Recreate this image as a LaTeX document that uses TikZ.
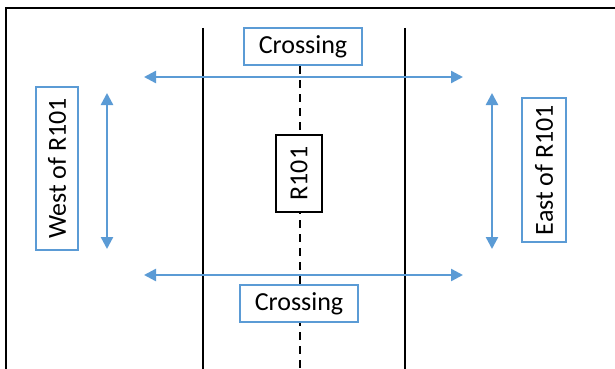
\documentclass[tikz,border=0pt]{standalone}
\usepackage{fontspec}
\setmainfont{Carlito}
\usetikzlibrary{arrows.meta}
\definecolor{skyblue}{RGB}{91,155,213}
\begin{document}
\begin{tikzpicture}[x=1pt,y=-1pt,
  roadline/.style={black,line width=1.8pt},
  bluebox/.style={draw=skyblue,line width=1.2pt,fill=white,inner sep=0pt,font=\fontsize{26}{30}\selectfont},
  blackbox/.style={draw=black,line width=1.2pt,fill=white,inner sep=0pt,font=\fontsize{26}{30}\selectfont},
  twoway/.style={skyblue,line width=2.4pt,{Triangle[length=12pt,width=12pt]}-{Triangle[length=12pt,width=12pt]}}]
\useasboundingbox (0,0) rectangle (615,369);
\fill[white] (0,0) rectangle (615,369);
% outer frame
\draw[black,line width=1.8pt] (6,372) -- (6,8) -- (620,8);
% road edges and centre line
\coordinate (lt) at (203,28); \coordinate (lb) at (203,372);
\coordinate (rt) at (405,28); \coordinate (rb) at (405,372);
\coordinate (ct) at (300,66); \coordinate (cb) at (300,372);
\draw[roadline] (lt) -- (lb);
\draw[roadline] (rt) -- (rb);
\draw[black,line width=1.8pt,dash pattern=on 8pt off 6pt] (ct) -- (cb);
% crossing arrows
\coordinate (tl) at (144,77); \coordinate (tr) at (463,77);
\coordinate (bl) at (144,275); \coordinate (br) at (463,275);
\draw[twoway] (tl) -- (tr);
\draw[twoway] (bl) -- (br);
% side arrows
\coordinate (wt) at (107,93); \coordinate (wb) at (107,249);
\coordinate (et) at (492,93); \coordinate (eb) at (492,249);
\draw[twoway] (wt) -- (wb);
\draw[twoway] (et) -- (eb);
% labels
\node[bluebox,minimum width=118pt,minimum height=37pt] (cross1) at (303,46.5) {Crossing};
\node[bluebox,minimum width=118pt,minimum height=37pt] (cross2) at (299,303.5) {Crossing};
\node[blackbox,minimum width=46pt,minimum height=77pt] (road) at (299,173.5) {\rotatebox{90}{R101}};
\node[bluebox,minimum width=42pt,minimum height=163pt] (west) at (57,168.5) {\rotatebox{90}{West of R101}};
\node[bluebox,minimum width=44pt,minimum height=144pt] (east) at (544,170) {\rotatebox{90}{East of R101}};
\end{tikzpicture}
\end{document}
